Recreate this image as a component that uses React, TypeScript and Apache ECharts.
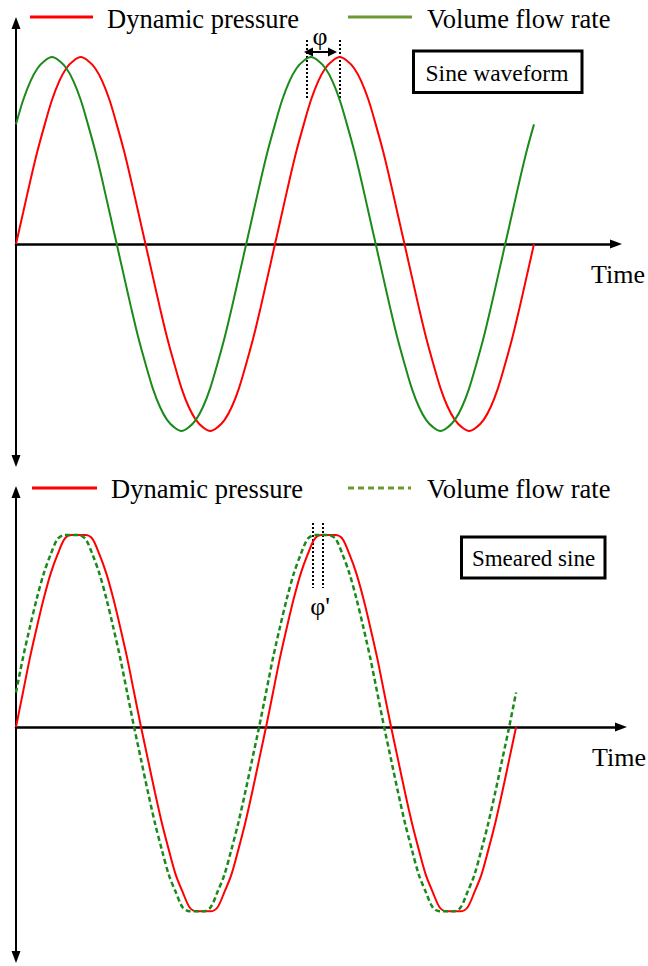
import React, { useEffect, useRef } from "react";
import * as echarts from "echarts";

// Time (degrees of phase) shared by both panels
const timeSteps = [
  0, 10, 20, 30, 40, 50, 60, 70, 80, 90, 100, 110, 120, 130, 140, 150, 160, 170,
  180, 190, 200, 210, 220, 230, 240, 250, 260, 270, 280, 290, 300, 310, 320, 330, 340, 350,
  360, 370, 380, 390, 400, 410, 420, 430, 440, 450, 460, 470, 480, 490, 500, 510, 520, 530,
  540, 550, 560, 570, 580, 590, 600, 610, 620, 630, 640, 650, 660, 670, 680, 690, 700, 710,
  720,
];

// Top panel: sine waveform
const sinePressure = [
  0, 0.17, 0.34, 0.5, 0.64, 0.77, 0.87, 0.94, 0.98, 1, 0.98, 0.94, 0.87, 0.77, 0.64, 0.5, 0.34, 0.17,
  0, -0.17, -0.34, -0.5, -0.64, -0.77, -0.87, -0.94, -0.98, -1, -0.98, -0.94, -0.87, -0.77, -0.64, -0.5, -0.34, -0.17,
  0, 0.17, 0.34, 0.5, 0.64, 0.77, 0.87, 0.94, 0.98, 1, 0.98, 0.94, 0.87, 0.77, 0.64, 0.5, 0.34, 0.17,
  0, -0.17, -0.34, -0.5, -0.64, -0.77, -0.87, -0.94, -0.98, -1, -0.98, -0.94, -0.87, -0.77, -0.64, -0.5, -0.34, -0.17,
  0,
];
const sineFlow = [
  0.64, 0.77, 0.87, 0.94, 0.98, 1, 0.98, 0.94, 0.87, 0.77, 0.64, 0.5, 0.34, 0.17, 0, -0.17, -0.34, -0.5,
  -0.64, -0.77, -0.87, -0.94, -0.98, -1, -0.98, -0.94, -0.87, -0.77, -0.64, -0.5, -0.34, -0.17, 0, 0.17, 0.34, 0.5,
  0.64, 0.77, 0.87, 0.94, 0.98, 1, 0.98, 0.94, 0.87, 0.77, 0.64, 0.5, 0.34, 0.17, 0, -0.17, -0.34, -0.5,
  -0.64, -0.77, -0.87, -0.94, -0.98, -1, -0.98, -0.94, -0.87, -0.77, -0.64, -0.5, -0.34, -0.17, 0, 0.17, 0.34, 0.5,
  0.64,
];

// Bottom panel: smeared sine (flattened crests)
const smearPressure = [
  0, 0.18, 0.36, 0.52, 0.67, 0.8, 0.9, 0.98, 1, 1, 1, 0.98, 0.9, 0.8, 0.67, 0.52, 0.36, 0.18,
  0, -0.17, -0.34, -0.5, -0.64, -0.77, -0.86, -0.94, -0.96, -0.96, -0.96, -0.94, -0.86, -0.77, -0.64, -0.5, -0.34, -0.17,
  0, 0.18, 0.36, 0.52, 0.67, 0.8, 0.9, 0.98, 1, 1, 1, 0.98, 0.9, 0.8, 0.67, 0.52, 0.36, 0.18,
  0, -0.17, -0.34, -0.5, -0.64, -0.77, -0.86, -0.94, -0.96, -0.96, -0.96, -0.94, -0.86, -0.77, -0.64, -0.5, -0.34, -0.17,
  0,
];
const smearFlow = [
  0.18, 0.36, 0.52, 0.67, 0.8, 0.9, 0.98, 1, 1, 1, 0.98, 0.9, 0.8, 0.67, 0.52, 0.36, 0.18, 0,
  -0.17, -0.34, -0.5, -0.64, -0.77, -0.86, -0.94, -0.96, -0.96, -0.96, -0.94, -0.86, -0.77, -0.64, -0.5, -0.34, -0.17, 0,
  0.18, 0.36, 0.52, 0.67, 0.8, 0.9, 0.98, 1, 1, 1, 0.98, 0.9, 0.8, 0.67, 0.52, 0.36, 0.18, 0,
  -0.17, -0.34, -0.5, -0.64, -0.77, -0.86, -0.94, -0.96, -0.96, -0.96, -0.94, -0.86, -0.77, -0.64, -0.5, -0.34, -0.17, 0,
  0.18,
];

const seriesNames = ["Dynamic pressure", "Volume flow rate"];
const panelTitles = ["Sine waveform", "Smeared sine"];
const axisTitle = "Time";
const phaseLabels = ["φ", "φ'"];

const RED = "#ff0000";
const GREEN = "#1a8a1a";
const LEGEND_GREEN = "#6a9a30";
const FONT_FAMILY = "'Liberation Serif', 'Times New Roman', serif";
const TEXT = "#000";

const pairs = (vals: number[]) => timeSteps.map((t, i) => [t, vals[i]]);

export default function App() {
  const ref = useRef<HTMLDivElement>(null);

  useEffect(() => {
    if (!ref.current) return;
    const chart = echarts.init(ref.current, null, { renderer: "svg" });

    const axisCommon = {
      axisTick: { show: false },
      axisLabel: { show: false },
      splitLine: { show: false },
    };

    const txt = (text: string, x: number, y: number, size: number, align = "left") => ({
      type: "text",
      x,
      y,
      silent: true,
      style: {
        text,
        fontSize: size,
        fontFamily: FONT_FAMILY,
        fill: TEXT,
        align,
        verticalAlign: "middle",
      },
    });
    const seg = (x1: number, y1: number, x2: number, y2: number, stroke: string, lw: number, dash?: number[]) => ({
      type: "line",
      silent: true,
      shape: { x1, y1, x2, y2 },
      style: { stroke, lineWidth: lw, lineDash: dash },
    });

    const option: any = {
      animation: false,
      backgroundColor: "#ffffff",
      textStyle: { fontFamily: FONT_FAMILY },
      grid: [
        { left: 16, top: 23, width: 600, height: 438 },
        { left: 16, top: 492, width: 605, height: 465 },
      ],
      xAxis: [
        {
          type: "value", gridIndex: 0, min: 0, max: 834,
          axisLine: { onZero: true, symbol: ["none", "triangle"], symbolSize: [9, 12], lineStyle: { color: "#000", width: 2.5 } },
          ...axisCommon,
        },
        {
          type: "value", gridIndex: 1, min: 0, max: 871,
          axisLine: { onZero: true, symbol: ["none", "triangle"], symbolSize: [9, 12], lineStyle: { color: "#000", width: 2.5 } },
          ...axisCommon,
        },
      ],
      yAxis: [
        {
          type: "value", gridIndex: 0, min: -1.16, max: 1.182,
          axisLine: { show: true, onZero: true, symbol: ["triangle", "triangle"], symbolSize: [9, 12], lineStyle: { color: "#000", width: 2 } },
          ...axisCommon,
        },
        {
          type: "value", gridIndex: 1, min: -1.198, max: 1.224,
          axisLine: { show: true, onZero: true, symbol: ["triangle", "triangle"], symbolSize: [9, 12], lineStyle: { color: "#000", width: 2 } },
          ...axisCommon,
        },
      ],
      series: [
        {
          name: seriesNames[0], type: "line", xAxisIndex: 0, yAxisIndex: 0, data: pairs(sinePressure),
          smooth: 0.35, symbol: "none", silent: true, lineStyle: { color: RED, width: 2 },
        },
        {
          name: seriesNames[1], type: "line", xAxisIndex: 0, yAxisIndex: 0, data: pairs(sineFlow),
          smooth: 0.35, symbol: "none", silent: true, lineStyle: { color: GREEN, width: 2 },
        },
        {
          name: seriesNames[0], type: "line", xAxisIndex: 1, yAxisIndex: 1, data: pairs(smearPressure),
          smooth: 0.3, symbol: "none", silent: true, lineStyle: { color: RED, width: 2 },
        },
        {
          name: seriesNames[1], type: "line", xAxisIndex: 1, yAxisIndex: 1, data: pairs(smearFlow),
          smooth: 0.3, symbol: "none", silent: true, lineStyle: { color: GREEN, width: 2.5, type: [5, 3] },
        },
      ],
      graphic: [
        // top legend
        seg(30, 17, 93, 17, RED, 3),
        txt(seriesNames[0], 107, 19, 26.5),
        seg(348, 17, 412, 17, LEGEND_GREEN, 3),
        txt(seriesNames[1], 427, 19, 26.5),
        // bottom legend
        seg(32, 488, 97, 488, RED, 3),
        txt(seriesNames[0], 111, 489, 26.5),
        seg(348, 488, 411, 488, LEGEND_GREEN, 3, [6, 4]),
        txt(seriesNames[1], 427, 489, 26.5),
        // axis titles
        txt(axisTitle, 591, 274, 26),
        txt(axisTitle, 592, 757, 26),
        // panel title boxes
        {
          type: "rect", silent: true,
          shape: { x: 413.5, y: 51, width: 168.5, height: 41.5 },
          style: { fill: "#fff", stroke: "#000", lineWidth: 3 },
        },
        txt(panelTitles[0], 497, 73, 23.5, "center"),
        {
          type: "rect", silent: true,
          shape: { x: 461.5, y: 537, width: 143.5, height: 41 },
          style: { fill: "#fff", stroke: "#000", lineWidth: 3 },
        },
        txt(panelTitles[1], 533.5, 558, 23, "center"),
        // phase markers top
        seg(307, 40, 307, 100, "#000", 2, [2, 2]),
        seg(340, 40, 340, 100, "#000", 2, [2, 2]),
        seg(310, 52, 333, 52, "#000", 2),
        { type: "polygon", silent: true, shape: { points: [[304, 52], [313, 47.5], [313, 56.5]] }, style: { fill: "#000" } },
        { type: "polygon", silent: true, shape: { points: [[337, 52], [328, 47.5], [328, 56.5]] }, style: { fill: "#000" } },
        txt(phaseLabels[0], 320, 36, 26, "center"),
        // phase markers bottom
        seg(313, 523, 313, 588, "#000", 2, [2, 2]),
        seg(323, 523, 323, 588, "#000", 2, [2, 2]),
        txt(phaseLabels[1], 320, 606, 26, "center"),
      ],
    };

    chart.setOption(option);
    return () => chart.dispose();
  }, []);

  return (
    <div
      ref={ref}
      style={{ position: "fixed", left: 0, top: 0, width: 648, height: 966, background: "#fff" }}
    />
  );
}
